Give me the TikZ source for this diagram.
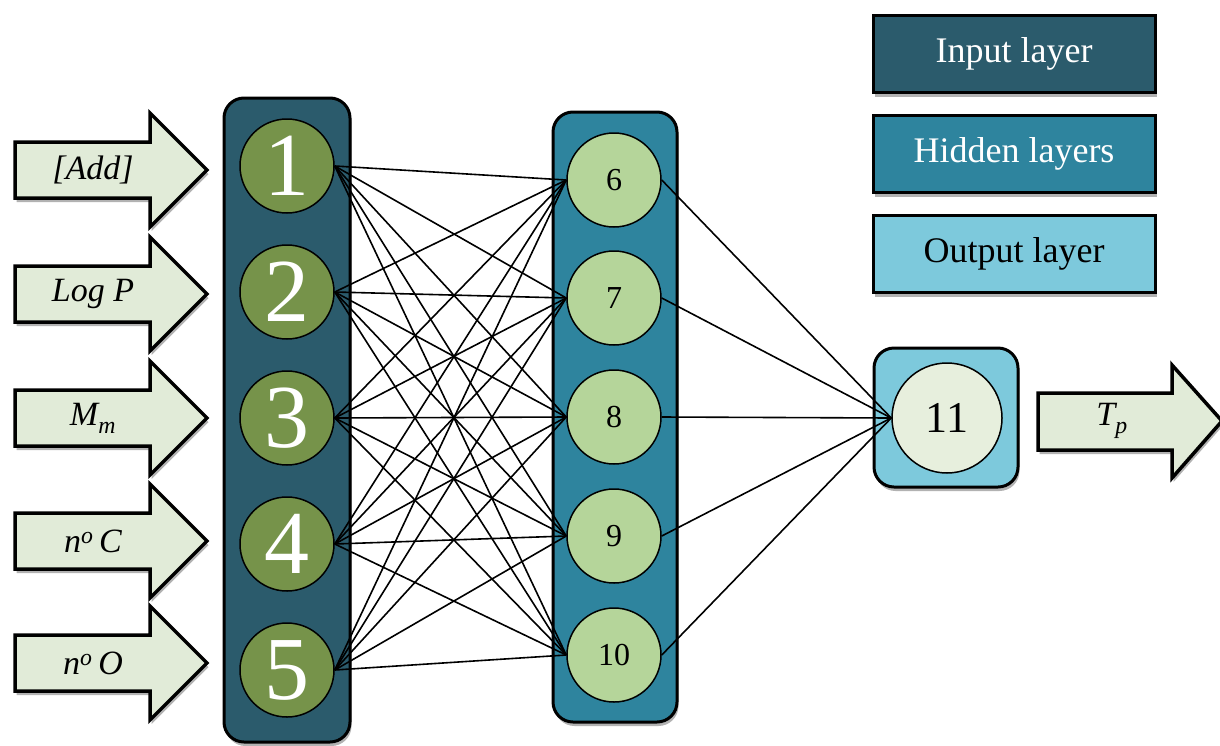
\documentclass[tikz,border=0pt]{standalone}
\usepackage{fontspec}
\setmainfont{Liberation Serif}
\usetikzlibrary{shadows}
\definecolor{inpC}{HTML}{2B5B6C}
\definecolor{hidC}{HTML}{2E849E}
\definecolor{outC}{HTML}{7DC9DC}
\definecolor{inNode}{HTML}{76934A}
\definecolor{hidNode}{HTML}{B5D59A}
\definecolor{outNode}{HTML}{E7EFDD}
\definecolor{arrC}{HTML}{E1EBD8}
\begin{document}
\begin{tikzpicture}[x=1pt,y=-1pt,
  shad/.style={drop shadow={shadow xshift=1.5pt,shadow yshift=-4pt,opacity=0.3,fill=black}},
  colbox/.style={draw=black,line width=3pt,rounded corners=20pt,inner sep=0pt,shad},
  legbox/.style={draw=black,line width=3pt,inner sep=0pt,minimum width=282pt,minimum height=77pt,shad,font=\fontsize{36}{40}\selectfont},
  innode/.style={circle,draw=black,line width=1.5pt,fill=inNode,minimum size=94pt,inner sep=0pt,text=white,font=\fontsize{90}{94}\selectfont},
  hidnode/.style={circle,draw=black,line width=1.5pt,fill=hidNode,minimum size=94pt,inner sep=0pt,font=\fontsize{32}{36}\selectfont},
  outnode/.style={circle,draw=black,line width=1.5pt,fill=outNode,minimum size=110pt,inner sep=0pt,font=\fontsize{44}{48}\selectfont},
  bigarrow/.style={draw=black,line width=3.5pt,fill=arrC,line join=miter,shad},
  arrlabel/.style={font=\fontsize{34}{38}\selectfont\itshape,inner sep=0pt},
  conn/.style={line width=1.6pt,draw=black}
]
\useasboundingbox (0,0) rectangle (1220,745);

% legend
\node[legbox,fill=inpC,text=white] (legin) at (1014,54) {Input layer};
\node[legbox,fill=hidC,text=white] (leghid) at (1014,154) {Hidden layers};
\node[legbox,fill=outC,text=black] (legout) at (1014,254) {Output layer};

% columns
\node[colbox,fill=inpC,minimum width=126pt,minimum height=644pt] (incol) at (287,420) {};
\node[colbox,fill=hidC,minimum width=124pt,minimum height=610pt] (hidcol) at (615,417) {};
\node[colbox,fill=outC,minimum width=144pt,minimum height=139pt] (outcol) at (946,417.5) {};

% input arrows
\foreach \yy/\lab/\nm in {170/{[Add]}/a1,294/{Log P}/a2,418/{M\raisebox{-4pt}{\textsubscript{m}}}/a3,541/{n\textsuperscript{o}\,C}/a4,663/{n\textsuperscript{o}\,O}/a5}{
  \draw[bigarrow] (15,\yy-28) -- (150,\yy-28) -- (150,\yy-57) -- (207,\yy) -- (150,\yy+57) -- (150,\yy+28) -- (15,\yy+28) -- cycle;
  \node[arrlabel] (\nm) at (93,\yy) {\lab};
}
% output arrow
\draw[bigarrow] (1038,393) -- (1172,393) -- (1172,365) -- (1222,421) -- (1172,478) -- (1172,450) -- (1038,450) -- cycle;
\node[arrlabel] (tp) at (1112,421) {T\raisebox{-4pt}{\textsubscript{p}}};

% nodes
\foreach \i/\yy in {1/166,2/292,3/418,4/544,5/670}{
  \node[innode] (i\i) at (287,\yy) {\i};
}
\foreach \i/\yy in {6/180,7/298,8/417,9/536,10/655}{
  \node[hidnode] (h\i) at (614,\yy) {\i};
}
\node[outnode] (o11) at (947,418) {11};

% connections
\foreach \i in {1,...,5}{
  \foreach \j in {6,...,10}{
    \draw[conn] (i\i.east) -- (h\j.west);
  }
}
\foreach \j in {6,...,10}{
  \draw[conn] (h\j.east) -- (o11.west);
}
\end{tikzpicture}
\end{document}
